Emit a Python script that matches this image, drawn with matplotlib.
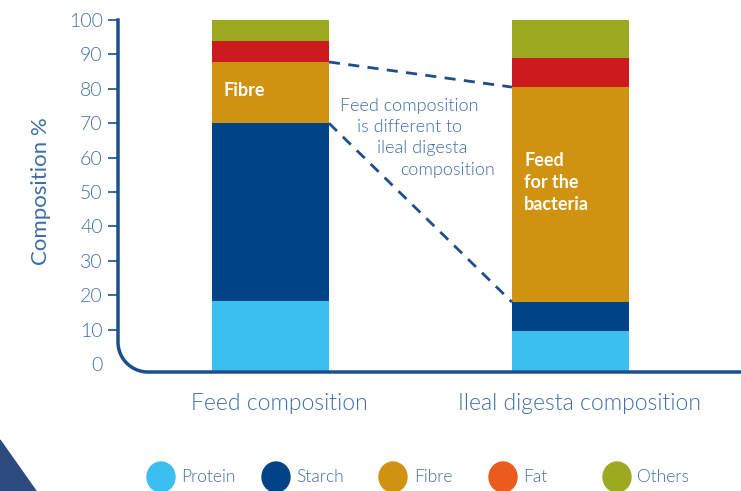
import numpy as np
import matplotlib
matplotlib.use("Agg")
import matplotlib.pyplot as plt
from matplotlib.patches import Ellipse, Polygon
from matplotlib.lines import Line2D

plt.rcParams["font.family"] = ["Lato", "DejaVu Sans"]
plt.rcParams["font.weight"] = 300

categories = ["Feed composition", "Ileal digesta composition"]
components = ["Protein", "Starch", "Fibre", "Fat", "Others"]
protein = [18.3, 9.6]
starch = [51.7, 8.4]
fibre = [17.8, 62.5]
fat = [6.2, 8.5]
others = [6.0, 11.0]
bar_colors = ["#3bbfef", "#004386", "#cf9211", "#cc1a1f", "#9caa22"]
legend_colors = ["#3bbfef", "#004386", "#cf9211", "#eb5b1e", "#9caa22"]
yticks = [0, 10, 20, 30, 40, 50, 60, 70, 80, 90, 100]

axis_blue = "#1c4f8c"
text_blue = "#3f6ea6"

W, H = 741, 491
fig = plt.figure(figsize=(W / 100, H / 100), dpi=100)

def fx(px):
    return px / W

def fy(py):
    return 1 - py / H

y_floor = -2.3
bar_w = 0.39
ax = fig.add_axes([fx(118), fy(372), fx(741) - fx(118), fy(20) - fy(372)])
ax.set_xlim(-0.508, 1.568)
ax.set_ylim(y_floor, 100)

x = np.arange(len(categories))
series = [protein, starch, fibre, fat, others]
bottom = np.zeros(len(categories))
tops = []
for vals, col in zip(series, bar_colors):
    vals = np.array(vals)
    b = np.where(bottom == 0, y_floor, bottom)
    ax.bar(x, bottom + vals - b, bottom=b, width=bar_w, color=col, zorder=2)
    bottom = bottom + vals
    tops.append(bottom.copy())

# dashed connectors between fibre boundaries
hw = bar_w / 2
fibre_lo = tops[1]
fibre_hi = tops[2]
ax.plot([x[0] + hw, x[1] - hw], [fibre_hi[0], fibre_hi[1]], ls=(0, (4, 3)),
        color=axis_blue, lw=2, zorder=3)
ax.plot([x[0] + hw, x[1] - hw], [fibre_lo[0], fibre_lo[1]], ls=(0, (4, 3)),
        color=axis_blue, lw=2, zorder=3)

for sp in ax.spines.values():
    sp.set_visible(False)

ax.set_yticks(yticks)
ax.tick_params(axis="y", colors=axis_blue, labelcolor=text_blue, labelsize=14,
               length=7, width=1.2, pad=4)
ax.yaxis.get_major_ticks()[0].tick1line.set_visible(False)
ax.set_xticks(x + 0.03)
ax.set_xticklabels(categories, fontsize=16.5, color=text_blue)
ax.tick_params(axis="x", length=0, pad=15)
ax.set_ylabel("Composition %", fontsize=16, color=text_blue)
ax.yaxis.set_label_coords(-0.108, 0.514)

# L-shaped axis with rounded corner
r = 30
t = np.linspace(np.pi, 1.5 * np.pi, 30)
cx, cy = 118 + r, 372 - r
arc_x = cx + r * np.cos(t)
arc_y = cy - r * np.sin(t)
px = np.concatenate([[118], arc_x, [741]])
py = np.concatenate([[20], arc_y, [372]])
fig.add_artist(Line2D(fx(px), fy(py), color=axis_blue, lw=2.5))

# annotations
ax.text(x[0] - 0.155, 79.5, "Fibre", color="white", fontsize=13, fontweight="bold",
        ha="left", va="center", zorder=4)
ax.text(x[1] - 0.155, 61.5, "Feed\nfor the\nbacteria", color="white", fontsize=13,
        fontweight="bold", ha="left", va="top", linespacing=1.35, zorder=4)

note_lines = [("Feed composition", 340, 106), ("is different to", 357, 127),
              ("ileal digesta", 377, 148), ("composition", 400, 170)]
for s, px0, py0 in note_lines:
    fig.text(fx(px0), fy(py0), s, color=text_blue, fontsize=13, ha="left", va="center")

# legend
legend_pos = [(161, 181), (276, 296), (393, 414), (503, 523), (617, 637)]
for name, col, (cxp, txp) in zip(components, legend_colors, legend_pos):
    fig.add_artist(Ellipse((fx(cxp), fy(477)), fx(28), fy(0) - fy(30),
                           color=col, transform=fig.transFigure))
    fig.text(fx(txp), fy(477), name, color=text_blue, fontsize=12.5,
             ha="left", va="center")

# decorative corner
fig.add_artist(Polygon([[fx(0), fy(440)], [fx(36), fy(491)], [fx(0), fy(491)]],
                       closed=True, color="#2c4a7e", transform=fig.transFigure))

fig.savefig("out.png", dpi=100)
